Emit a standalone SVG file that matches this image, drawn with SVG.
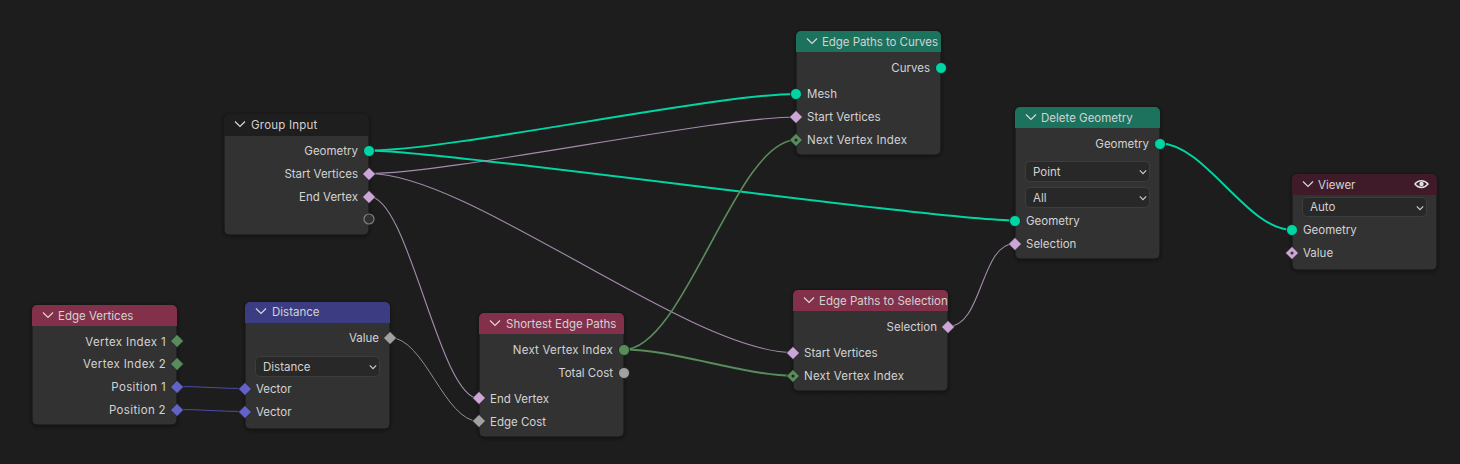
<svg xmlns="http://www.w3.org/2000/svg" width="1460" height="464" viewBox="0 0 1460 464">
<style>
text{font-family:Inter,"Noto Sans",sans-serif;font-size:11.5px;fill:#d2d2d2}
.e{text-anchor:end}
.w{letter-spacing:.22px}
.x{letter-spacing:.35px}
.b{fill:#303030;stroke:#161616;stroke-width:1;filter:url(#sh)}
.chv{fill:none;stroke:#d8d8d8;stroke-width:1.2}
.drop{fill:#282828;stroke:#3d3d3d;stroke-width:1}
.dc{fill:none;stroke:#d0d0d0;stroke-width:1.1}
.l{fill:none;stroke-linecap:round}
.geo{stroke:#00d6a3;stroke-width:2}
.bool{stroke:#a58cad;stroke-width:1.1}
.int{stroke:#598c5c;stroke-width:2}
.val{stroke:#8f8f8f;stroke-width:1}
.vec{stroke:#4c4ca8;stroke-width:1.2}
.sg{fill:#00d6a3;stroke:#1c1c1c;stroke-width:.8}
.sb{fill:#cca6d6;stroke:#1c1c1c;stroke-width:.8}
.si{fill:#598c5c;stroke:#1c1c1c;stroke-width:.8}
.sv{fill:#a1a1a1;stroke:#1c1c1c;stroke-width:.8}
.sc{fill:#6363c7;stroke:#1c1c1c;stroke-width:.8}
</style>
<defs>
<filter id="sh" x="-10%" y="-10%" width="120%" height="125%"><feDropShadow dx="0" dy="1" stdDeviation="2" flood-color="#000" flood-opacity=".45"/></filter>
<pattern id="grid" patternUnits="userSpaceOnUse" x="433" y="102.500" width="20.800" height="20.800"><rect width="1" height="1" fill="#242424"/></pattern>
<path id="dia" d="M0-6.600 6.600 0 0 6.600-6.600 0Z"/>
<path id="chv" d="M-5-2.500 0 2.500 5-2.500"/>
<path id="drc" d="M-3.200-1.600 0 1.600 3.200-1.600"/>
</defs>
<rect width="1460" height="464" fill="#1d1d1d"/>
<rect width="1460" height="464" fill="url(#grid)"/>
<g id="connectors">
<path class="l geo" d="M369 150.500C450 150.500 716 94 796 94"/>
<path class="l geo" d="M369 150.500C440 150.500 940 220.500 1015 220.500"/>
<path class="l geo" d="M1160 143.500C1205 143.500 1247 230 1292 230"/>
<path class="l bool" d="M369 173.500C450 173.500 716 117 796 117"/>
<path class="l bool" d="M369 173.500C470 173.500 690 352.500 793 352.500"/>
<path class="l bool" d="M369 196.500C409 196.500 439 398.500 479 398.500"/>
<path class="l bool" d="M948 326.500C983 326.500 980 243.500 1015 243.500"/>
<path class="l int" style="stroke-width:1.6" d="M624 349.500C684 349.500 736 140 796 140"/>
<path class="l int" d="M624 349.500C674 349.500 743 375.500 793 375.500"/>
<path class="l val" d="M390 337.500C425 337.500 444 421.500 479 421.500"/>
<path class="l vec" d="M177 386.500C210 386.500 212 388.500 245 388.500"/>
<path class="l vec" d="M177 409.500C210 409.500 212 411.500 245 411.500"/>
</g>
<g id="group-input">
<rect class="b" x="224" y="114" width="145" height="121" rx="5"/>
<path fill="#1e1e1e" d="M224 136V119a5 5 0 0 1 5-5H364a5 5 0 0 1 5 5V136Z"/>
<use class="chv" href="#chv" x="240" y="124"/>
<text class="w" x="251" y="129">Group Input</text>
<text class="e" x="358" y="155">Geometry</text>
<text class="e" x="358" y="178">Start Vertices</text>
<text class="e" x="358" y="201">End Vertex</text>
<circle class="sg" cx="369" cy="151" r="5.500"/>
<use class="sb" href="#dia" x="369" y="174"/>
<use class="sb" href="#dia" x="369" y="197"/>
<circle cx="369" cy="219" r="5" fill="#303030" stroke="#808080" stroke-width="1.200"/>
</g>
<g id="edge-vertices">
<rect class="b" x="32" y="305" width="145" height="120" rx="5"/>
<path fill="#83314a" d="M32 326V310a5 5 0 0 1 5-5H172a5 5 0 0 1 5 5V326Z"/>
<use class="chv" href="#chv" x="48" y="315"/>
<text x="58" y="320">Edge Vertices</text>
<text class="e x" x="166" y="346">Vertex Index 1</text>
<text class="e x" x="166" y="368">Vertex Index 2</text>
<text class="e x" x="166" y="391">Position 1</text>
<text class="e x" x="166" y="414">Position 2</text>
<use class="si" href="#dia" x="177" y="341"/>
<use class="si" href="#dia" x="177" y="364"/>
<use class="sc" href="#dia" x="177" y="387"/>
<use class="sc" href="#dia" x="177" y="410"/>
</g>
<g id="distance">
<rect class="b" x="245" y="302" width="145" height="127" rx="5"/>
<path fill="#3c3c83" d="M245 323V307a5 5 0 0 1 5-5H385a5 5 0 0 1 5 5V323Z"/>
<use class="chv" href="#chv" x="261" y="311"/>
<text x="272" y="316">Distance</text>
<text class="e" x="379" y="342">Value</text>
<use class="sv" href="#dia" x="390" y="338"/>
<rect class="drop" x="255.500" y="356.500" width="124" height="20" rx="4"/>
<text x="263" y="371">Distance</text>
<use class="dc" href="#drc" x="373" y="367"/>
<text x="256" y="393">Vector</text>
<text x="256" y="416">Vector</text>
<use class="sc" href="#dia" x="245" y="389"/>
<use class="sc" href="#dia" x="245" y="412"/>
</g>
<g id="shortest-edge-paths">
<rect class="b" x="479" y="313" width="145" height="124" rx="5"/>
<path fill="#83314a" d="M479 334V318a5 5 0 0 1 5-5H619a5 5 0 0 1 5 5V334Z"/>
<use class="chv" href="#chv" x="495" y="323"/>
<text x="506" y="328">Shortest Edge Paths</text>
<text class="e w" x="613" y="354">Next Vertex Index</text>
<text class="e" x="613" y="377">Total Cost</text>
<text x="490" y="403">End Vertex</text>
<text x="490" y="426">Edge Cost</text>
<circle class="si" cx="624" cy="350" r="5.500"/>
<circle class="sv" cx="624" cy="373" r="5.500"/>
<use class="sb" href="#dia" x="479" y="398"/>
<use class="sv" href="#dia" x="479" y="421"/>
</g>
<g id="edge-paths-to-curves">
<rect class="b" x="796" y="31" width="145" height="124" rx="5"/>
<path fill="#1d725e" d="M796 52V36a5 5 0 0 1 5-5H936a5 5 0 0 1 5 5V52Z"/>
<use class="chv" href="#chv" x="812" y="41"/>
<text x="822" y="46" textLength="116">Edge Paths to Curves</text>
<text class="e" x="930" y="72">Curves</text>
<circle class="sg" cx="941" cy="68" r="5.500"/>
<text x="807" y="98">Mesh</text>
<text x="807" y="121">Start Vertices</text>
<text class="w" x="807" y="144">Next Vertex Index</text>
<circle class="sg" cx="796" cy="94" r="5.500"/>
<use class="sb" href="#dia" x="796" y="117"/>
<use class="si" href="#dia" x="796" y="140"/>
<circle cx="796" cy="140" r="1.500" fill="#222"/>
</g>
<g id="edge-paths-to-selection">
<rect class="b" x="793" y="290" width="155" height="101" rx="5"/>
<path fill="#83314a" d="M793 311V295a5 5 0 0 1 5-5H943a5 5 0 0 1 5 5V311Z"/>
<use class="chv" href="#chv" x="809" y="300"/>
<text x="819" y="305">Edge Paths to Selection</text>
<text class="e" x="937" y="331">Selection</text>
<use class="sb" href="#dia" x="948" y="327"/>
<text x="804" y="357">Start Vertices</text>
<text class="w" x="804" y="380">Next Vertex Index</text>
<use class="sb" href="#dia" x="793" y="353"/>
<use class="si" href="#dia" x="793" y="376"/>
<circle cx="793" cy="376" r="1.500" fill="#222"/>
</g>
<g id="delete-geometry">
<rect class="b" x="1015" y="107" width="145" height="152" rx="5"/>
<path fill="#1d725e" d="M1015 128V112a5 5 0 0 1 5-5H1155a5 5 0 0 1 5 5V128Z"/>
<use class="chv" href="#chv" x="1031" y="117"/>
<text x="1041" y="122">Delete Geometry</text>
<text class="e" x="1149" y="148">Geometry</text>
<circle class="sg" cx="1160" cy="144" r="5.500"/>
<rect class="drop" x="1025.500" y="161.500" width="124" height="20" rx="4"/>
<text x="1033" y="176">Point</text>
<use class="dc" href="#drc" x="1143" y="172"/>
<rect class="drop" x="1025.500" y="187.500" width="124" height="20" rx="4"/>
<text x="1033" y="202">All</text>
<use class="dc" href="#drc" x="1143" y="198"/>
<text x="1026" y="225">Geometry</text>
<text x="1026" y="248">Selection</text>
<circle class="sg" cx="1015" cy="221" r="5.500"/>
<use class="sb" href="#dia" x="1015" y="244"/>
</g>
<g id="viewer">
<rect class="b" x="1292" y="174" width="145" height="96" rx="5"/>
<path fill="#3f1b29" d="M1292 195V179a5 5 0 0 1 5-5H1432a5 5 0 0 1 5 5V195Z"/>
<use class="chv" href="#chv" x="1308" y="184"/>
<text x="1318" y="189">Viewer</text>
<path d="M1415 184c3-4.500 9.500-4.500 13 0-3.500 4.500-10 4.500-13 0Z" fill="none" stroke="#e0e0e0" stroke-width="1.500"/>
<circle cx="1421.500" cy="184" r="2.200" fill="#e0e0e0"/>
<rect class="drop" x="1302.500" y="197.500" width="124" height="19" rx="4"/>
<text x="1310" y="211">Auto</text>
<use class="dc" href="#drc" x="1420" y="208"/>
<text x="1303" y="234">Geometry</text>
<text x="1303" y="257">Value</text>
<circle class="sg" cx="1292" cy="230" r="5.500"/>
<use class="sb" href="#dia" x="1292" y="253"/>
<circle cx="1292" cy="253" r="1.500" fill="#303030"/>
</g>
</svg>
